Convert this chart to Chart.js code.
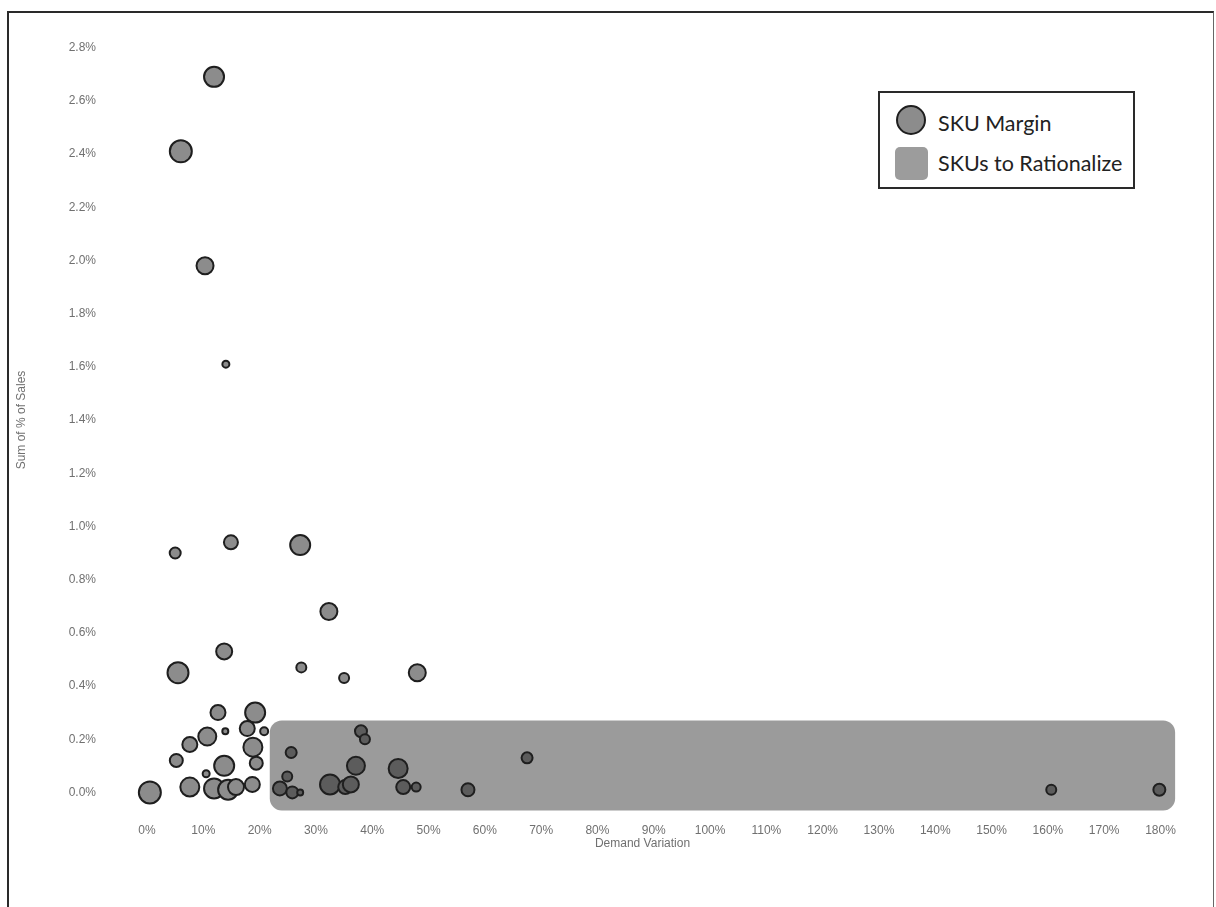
<!DOCTYPE html>
<html>
<head>
<meta charset="utf-8">
<script src="https://cdn.jsdelivr.net/npm/chart.js@4.4.1/dist/chart.umd.min.js"></script>
<style>
  body { margin: 0; background: #fff; }
  #wrap { position: relative; width: 1216px; height: 907px; }
  #frame {
    position: absolute; left: 7px; top: 11px; width: 1204px; height: 900px;
    border-left: 2px solid #2a2a2a; border-top: 2px solid #2a2a2a; border-right: 1px solid #666;
    pointer-events: none;
  }
  #legend {
    position: absolute; left: 878px; top: 91px; width: 253px; height: 94px;
    border: 2px solid #2a2a2a; background: #fff;
    font-family: Lato, "Open Sans", sans-serif; font-size: 21.5px; color: #222;
  }
  .item { position: absolute; left: 58px; line-height: 26px; }
  .dot {
    position: absolute; left: 16px; top: 12px; width: 26px; height: 26px;
    border-radius: 50%; background: #8c8c8c; border: 2px solid #1e1e1e;
  }
  .box {
    position: absolute; left: 15px; top: 54px; width: 33px; height: 33px;
    border-radius: 5px; background: #9c9c9c;
  }
</style>
</head>
<body>
<div id="wrap">
  <canvas id="skuChart"></canvas>
  <div id="frame"></div>
  <div id="legend">
    <div class="dot"></div><div class="item" style="top:17px">SKU Margin</div>
    <div class="box"></div><div class="item" style="top:57px">SKUs to Rationalize</div>
  </div>
</div>
<script>
// SKU bubbles: demand variation (%), share of sales (%), bubble radius
const demandVariation = [11.9, 6.0, 10.3, 14.0, 5.0, 14.9, 27.2, 32.3, 13.7, 5.5,
  27.4, 35.0, 48.0, 12.6, 19.2, 13.9, 10.7, 17.8, 20.8, 7.6,
  18.8, 5.2, 19.4, 13.7, 10.5, 0.5, 7.6, 11.9, 14.4, 15.8,
  18.7, 25.6, 24.9, 23.6, 25.8, 27.2, 32.5, 35.2, 38.0, 38.7,
  37.1, 36.2, 44.6, 45.5, 47.8, 57.0, 67.5, 160.6, 179.8];
const salesShare = [2.69, 2.41, 1.98, 1.61, 0.90, 0.94, 0.93, 0.68, 0.53, 0.45,
  0.47, 0.43, 0.45, 0.30, 0.30, 0.23, 0.21, 0.24, 0.23, 0.18,
  0.17, 0.12, 0.11, 0.10, 0.07, 0.00, 0.02, 0.015, 0.01, 0.02,
  0.03, 0.15, 0.06, 0.015, 0.00, 0.00, 0.03, 0.02, 0.23, 0.20,
  0.10, 0.03, 0.09, 0.02, 0.02, 0.01, 0.13, 0.01, 0.01];
const marginSize = [10, 11, 8.5, 3.5, 5.5, 7, 10, 8.5, 8, 10.5,
  5, 5, 8.5, 7.5, 10, 3, 9, 7.5, 4, 7.5,
  9.5, 6.5, 6.5, 10, 3.5, 11, 9.5, 10, 10, 8,
  7.5, 5.5, 5, 7, 6, 3, 10, 7, 6, 5,
  9, 8, 9.5, 7, 4.5, 6.5, 5.5, 5, 6];

const xTicks = [0, 10, 20, 30, 40, 50, 60, 70, 80, 90, 100, 110, 120, 130, 140, 150, 160, 170, 180];
const yTicks = [0, 0.2, 0.4, 0.6, 0.8, 1.0, 1.2, 1.4, 1.6, 1.8, 2.0, 2.2, 2.4, 2.6, 2.8];

// shaded "SKUs to Rationalize" zone
const rationalizeX = [21.8, 182.6];
const rationalizeY = [-0.068, 0.27];

const points = demandVariation.map((x, i) => ({ x: x, y: salesShare[i], r: marginSize[i] }));

// draw the rounded zone over the bubbles (it darkens them like the original)
const zonePlugin = {
  id: 'zone',
  afterDatasetsDraw(chart) {
    const { ctx, scales } = chart;
    const x1 = scales.x.getPixelForValue(rationalizeX[0]);
    const x2 = scales.x.getPixelForValue(rationalizeX[1]);
    const y1 = scales.y.getPixelForValue(rationalizeY[1]);
    const y2 = scales.y.getPixelForValue(rationalizeY[0]);
    ctx.save();
    ctx.fillStyle = 'rgba(33, 33, 33, 0.45)';
    ctx.beginPath();
    ctx.roundRect(x1, y1, x2 - x1, y2 - y1, 12);
    ctx.fill();
    ctx.restore();
  }
};

const tickFont = { family: '"Liberation Sans", Arial, sans-serif', size: 12 };

const ctx = document.getElementById('skuChart').getContext('2d');
const chart = new Chart(ctx, {
  type: 'bubble',
  data: {
    datasets: [{
      label: 'SKU Margin',
      data: points,
      backgroundColor: '#8c8c8c',
      borderColor: '#1e1e1e',
      borderWidth: 2
    }]
  },
  options: {
    responsive: true,
    maintainAspectRatio: false,
    animation: false,
    layout: { padding: { left: 10, right: 33, top: 21, bottom: 52 } },
    plugins: {
      legend: { display: false },
      tooltip: { enabled: false }
    },
    scales: {
      x: {
        type: 'linear',
        min: -8,
        max: 184,
        grid: { display: false, drawTicks: false },
        border: { display: false },
        afterBuildTicks: axis => { axis.ticks = xTicks.map(v => ({ value: v })); },
        afterFit: scale => { scale.height = 36; },
        ticks: {
          padding: 4,
          color: '#707070',
          font: tickFont,
          maxRotation: 0,
          autoSkip: false,
          callback: v => v + '%'
        },
        title: {
          display: true,
          text: 'Demand Variation',
          color: '#707070',
          font: tickFont,
          padding: { top: 1 }
        }
      },
      y: {
        type: 'linear',
        min: -0.1,
        max: 2.9,
        grid: { display: false, drawTicks: false },
        border: { display: false },
        afterBuildTicks: axis => { axis.ticks = yTicks.map(v => ({ value: v })); },
        afterFit: scale => { scale.width = 92; },
        ticks: {
          padding: 6,
          color: '#707070',
          font: tickFont,
          callback: v => v.toFixed(1) + '%'
        },
        title: {
          display: true,
          text: 'Sum of % of Sales',
          color: '#707070',
          font: tickFont
        }
      }
    }
  },
  plugins: [zonePlugin]
});
</script>
</body>
</html>
